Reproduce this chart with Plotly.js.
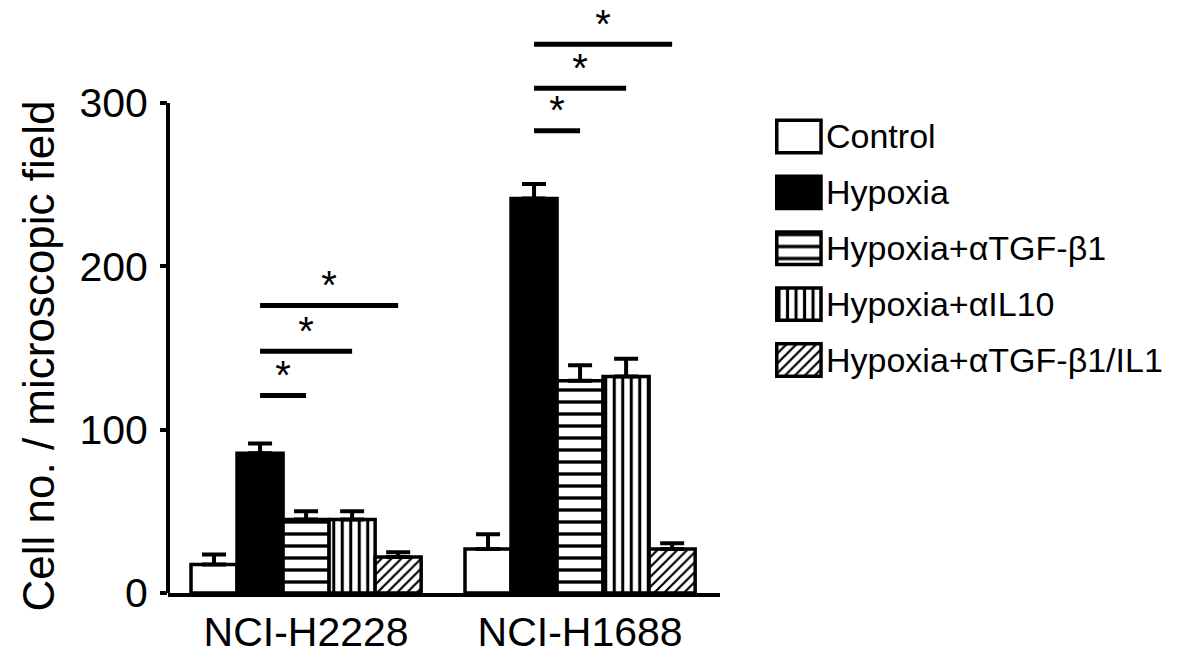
<!DOCTYPE html>
<html>
<head>
<meta charset="utf-8">
<script src="https://cdn.plot.ly/plotly-3.0.1.min.js"></script>
<style>html,body{margin:0;padding:0;background:#fff;}#chart{width:1181px;height:661px;}</style>
</head>
<body>
<div id="chart"></div>
<script>
// ---- data ----
const categories = ['NCI-H2228', 'NCI-H1688'];
const seriesNames = ['Control', 'Hypoxia', 'Hypoxia+αTGF-β1', 'Hypoxia+αIL10', 'Hypoxia+αTGF-β1/IL1'];
const controlVals = [17.5, 27];
const controlErr = [6, 9];
const hypoxiaVals = [85.5, 241.5];
const hypoxiaErr = [6, 9];
const tgfVals = [45, 130];
const tgfErr = [5, 9.5];
const il10Vals = [45, 132.5];
const il10Err = [5, 11];
const comboVals = [22, 27];
const comboErr = [3, 3.5];
const yTickVals = [0, 100, 200, 300];
// significance brackets: group index, from-bar, to-bar, height
const sigGroup = [0, 0, 0, 1, 1, 1];
const sigFrom = [1, 1, 1, 1, 1, 1];
const sigTo = [2, 3, 4, 2, 3, 4];
const sigLevel = [121, 148, 176, 283, 309, 336];
const sigLabel = ['*', '*', '*', '*', '*', '*'];

// ---- styling ----
const FONT = 'Arial, "Liberation Sans", sans-serif';
const nSeries = 5;
const bargap = 0.16;
const barW = (1 - bargap) / nSeries;
const groupPos = categories.map((c, i) => i);
const fills = [
  {color: 'white'},
  {color: 'black'},
  {color: 'white', pattern: {shape: '-', size: 12, solidity: 0.28, fgcolor: 'black', bgcolor: 'white', fillmode: 'replace'}},
  {color: 'white', pattern: {shape: '|', size: 8.5, solidity: 0.36, fgcolor: 'black', bgcolor: 'white', fillmode: 'replace'}},
  {color: 'white', pattern: {shape: '/', size: 7, solidity: 0.32, fgcolor: 'black', bgcolor: 'white', fillmode: 'replace'}}
];
const vals = [controlVals, hypoxiaVals, tgfVals, il10Vals, comboVals];
const errs = [controlErr, hypoxiaErr, tgfErr, il10Err, comboErr];

const traces = [];
seriesNames.forEach((name, i) => {
  traces.push({
    type: 'bar', name: name, x: groupPos, y: vals[i],
    xaxis: 'x', yaxis: 'y', showlegend: false,
    marker: Object.assign({line: {color: 'black', width: 3.5}}, fills[i]),
    error_y: {type: 'data', symmetric: false, array: errs[i], arrayminus: errs[i].map(() => 0),
              color: 'black', thickness: 4, width: 12}
  });
});

// significance bars
const barCenter = (g, b) => groupPos[g] + (b - (nSeries - 1) / 2) * barW;
const starX = [], starY = [];
sigLevel.forEach((h, k) => {
  const x0 = barCenter(sigGroup[k], sigFrom[k]);
  const x1 = barCenter(sigGroup[k], sigTo[k]);
  traces.push({
    type: 'scatter', mode: 'lines', x: [x0, x1], y: [h, h],
    xaxis: 'x', yaxis: 'y', showlegend: false, hoverinfo: 'skip',
    line: {color: 'black', width: 5}
  });
  starX.push((x0 + x1) / 2);
  starY.push(h + 10);
});
traces.push({
  type: 'scatter', mode: 'text', x: starX, y: starY, text: sigLabel,
  textposition: 'middle center', textfont: {family: FONT, size: 40, color: 'black'},
  xaxis: 'x', yaxis: 'y', showlegend: false, hoverinfo: 'skip', cliponaxis: false
});

// legend swatches (separate small subplot)
seriesNames.forEach((name, i) => {
  traces.push({
    type: 'bar', orientation: 'h', y: [name], x: [1], base: 0,
    width: 0.58, offset: -0.29,
    xaxis: 'x2', yaxis: 'y2', showlegend: false, hoverinfo: 'skip',
    marker: Object.assign({line: {color: 'black', width: 3.5}}, fills[i])
  });
});

const layout = {
  width: 1181, height: 661,
  margin: {l: 168, r: 0, t: 0, b: 68},
  paper_bgcolor: 'white', plot_bgcolor: 'rgba(0,0,0,0)',
  font: {family: FONT, color: 'black'},
  barmode: 'group', bargap: bargap, bargroupgap: 0,
  showlegend: false,
  xaxis: {
    domain: [0, 0.545], range: [-0.504, 1.511], anchor: 'y',
    tickvals: groupPos, ticktext: categories, ticks: '',
    tickfont: {family: FONT, size: 41, color: 'black'},
    showline: true, linecolor: 'black', linewidth: 4,
    showgrid: false, zeroline: false, fixedrange: true
  },
  yaxis: {
    domain: [0, 1], range: [0, 363.1], anchor: 'x',
    tickvals: yTickVals, ticks: 'outside', ticklen: 7, tickwidth: 4, tickcolor: 'black',
    ticklabelstandoff: 4,
    tickfont: {family: FONT, size: 41, color: 'black'},
    showline: false, showgrid: false, zeroline: false, fixedrange: true
  },
  xaxis2: {domain: [0.599, 0.6466], range: [-0.045, 1.045], anchor: 'y2', visible: false, fixedrange: true},
  yaxis2: {
    domain: [0.3457, 0.817], anchor: 'x2', side: 'right', type: 'category',
    autorange: 'reversed', categoryorder: 'array', categoryarray: seriesNames,
    ticks: '', showline: false, showgrid: false, zeroline: false,
    ticklabelstandoff: 2,
    tickfont: {family: FONT, size: 34, color: 'black'}, fixedrange: true
  },
  shapes: [
    {type: 'line', xref: 'paper', yref: 'y', x0: 0, x1: 0, y0: 0, y1: yTickVals[yTickVals.length - 1],
     line: {color: 'black', width: 4}}
  ],
  annotations: [
    {text: 'Cell no. / microscopic field', textangle: -90, xref: 'paper', yref: 'y',
     x: -0.128, y: 145, xanchor: 'center', yanchor: 'middle', showarrow: false,
     font: {family: FONT, size: 44, color: 'black'}}
  ]
};

Plotly.newPlot('chart', traces, layout, {displayModeBar: false, staticPlot: true});
</script>
</body>
</html>
